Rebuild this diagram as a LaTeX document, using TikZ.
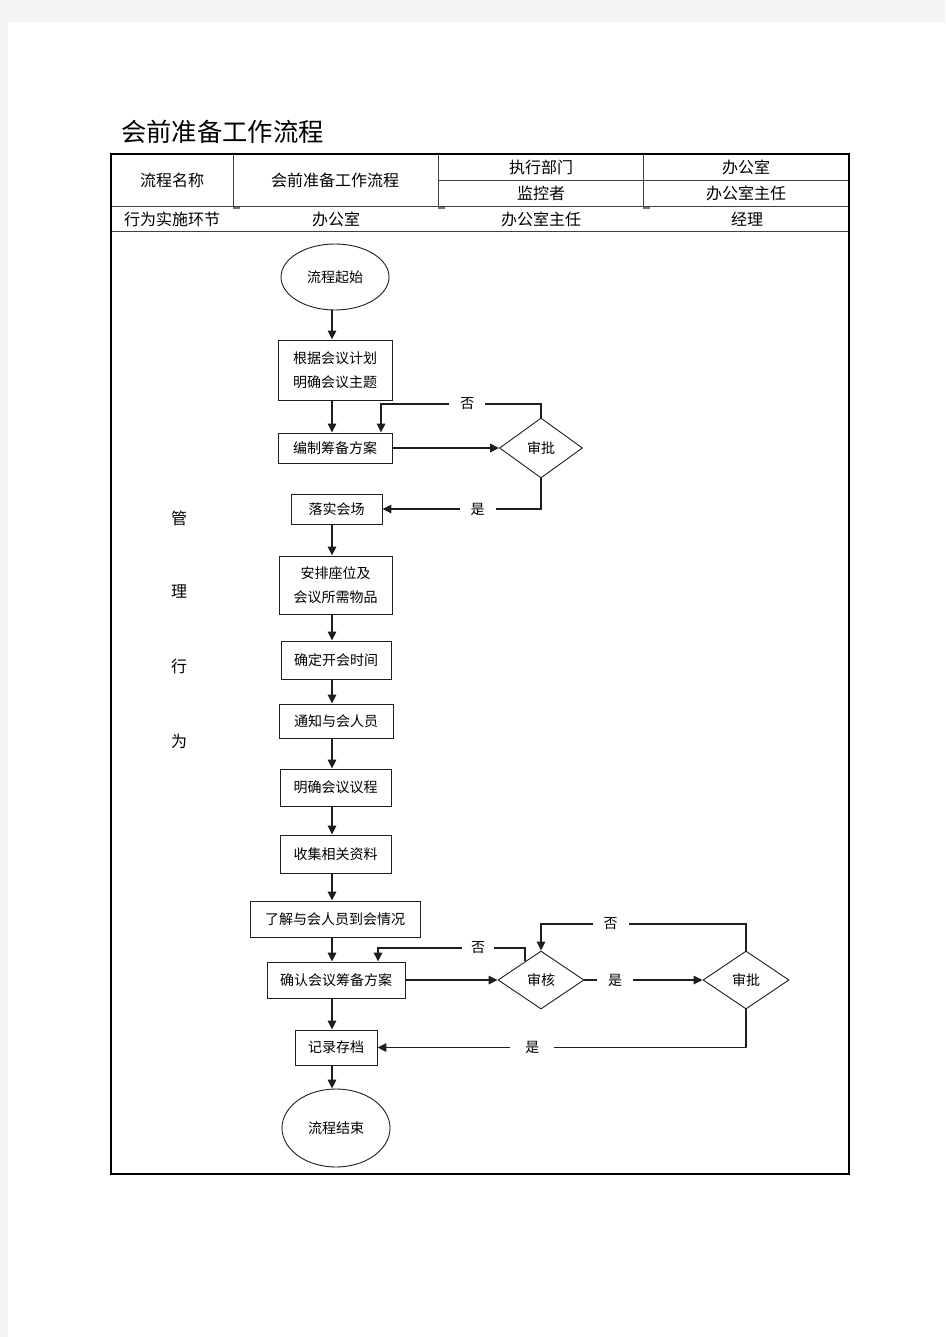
\documentclass[tikz,border=0pt]{standalone}
\usepackage{fontspec}
\setmainfont{Noto Sans CJK SC}
\usetikzlibrary{shapes.geometric,arrows.meta}
\definecolor{pagebg}{RGB}{243,243,243}
\definecolor{ink}{RGB}{30,30,30}
\begin{document}
\begin{tikzpicture}[x=1pt,y=-1pt,
  box/.style={draw=ink, line width=0.9pt, inner sep=0pt, align=center, font=\fontsize{14}{24}\selectfont},
  term/.style={ellipse, draw=ink, line width=0.9pt, minimum width=108pt, inner sep=0pt, font=\fontsize{14}{17}\selectfont},
  dec/.style={diamond, draw=ink, line width=0.9pt, inner sep=0pt, font=\fontsize{14}{17}\selectfont},
  conn/.style={draw=ink, line width=1.6pt, -{Triangle[length=9pt,width=8.5pt]}},
  lbl/.style={fill=white, inner xsep=11pt, inner ysep=1pt, font=\fontsize{14}{17}\selectfont},
  hdr/.style={font=\fontsize{16}{19}\selectfont, inner sep=0pt},
  tline/.style={draw=black!75, line width=1pt},
  ]
\useasboundingbox (0,0) rectangle (945,1337);
\fill[pagebg] (0,0) rectangle (945,1337);
\fill[white] (8,22) rectangle (945,1337);

% title
\node[anchor=west, inner sep=0pt, font=\fontsize{25.3}{28}\selectfont] (title) at (121,132) {会前准备工作流程};

% table lines
\draw[tline] (438,181) -- (849,181);
\draw[tline] (111,207) -- (849,207);
\draw[tline] (111,232) -- (849,232);
\draw[tline] (233,154) -- (233,207);
\draw[tline] (438,154) -- (438,207);
\draw[tline] (643,154) -- (643,207);
\draw[black!55, line width=1.5pt] (233,208) -- (240,208) (438,208) -- (445,208) (643,208) -- (650,208);
\draw[black, line width=2.4pt] (111,154) rectangle (849,1174);

% header texts
\node[hdr] (h1) at (172,180) {流程名称};
\node[hdr] (h2) at (335,180) {会前准备工作流程};
\node[hdr] (h3) at (541,167) {执行部门};
\node[hdr] (h4) at (746,167) {办公室};
\node[hdr] (h5) at (541,193) {监控者};
\node[hdr] (h6) at (746,193) {办公室主任};
\node[hdr] (h7) at (172,219) {行为实施环节};
\node[hdr] (h8) at (336,219) {办公室};
\node[hdr] (h9) at (541,219) {办公室主任};
\node[hdr] (h10) at (747,219) {经理};

% left column
\node[hdr] (v1) at (179,518) {管};
\node[hdr] (v2) at (179,592) {理};
\node[hdr] (v3) at (179,666) {行};
\node[hdr] (v4) at (179,741) {为};

% flow nodes
\node[term, minimum height=66pt] (start) at (335,277) {流程起始};
\node[box, minimum width=114pt, minimum height=60pt] (b1) at (335,370) {根据会议计划\\明确会议主题};
\node[box, minimum width=114pt, minimum height=30pt] (b2) at (335,448) {编制筹备方案};
\node[dec, minimum width=83pt, minimum height=60pt] (d1) at (541,448) {审批};
\node[box, minimum width=91pt, minimum height=30pt] (b3) at (336.5,509) {落实会场};
\node[box, minimum width=113pt, minimum height=58pt] (b4) at (335.5,585) {安排座位及\\会议所需物品};
\node[box, minimum width=110pt, minimum height=38pt] (b5) at (336,660) {确定开会时间};
\node[box, minimum width=114pt, minimum height=34pt] (b6) at (336,721) {通知与会人员};
\node[box, minimum width=111pt, minimum height=37pt] (b7) at (335.5,787.5) {明确会议议程};
\node[box, minimum width=111pt, minimum height=38pt] (b8) at (335.5,854) {收集相关资料};
\node[box, minimum width=170pt, minimum height=36pt] (b9) at (335,919) {了解与会人员到会情况};
\node[box, minimum width=138pt, minimum height=36pt] (b10) at (336,980) {确认会议筹备方案};
\node[dec, minimum width=86pt, minimum height=58pt] (d2) at (541,980) {审核};
\node[dec, minimum width=86pt, minimum height=58pt] (d3) at (746,980) {审批};
\node[box, minimum width=82pt, minimum height=35pt] (b11) at (336,1047.5) {记录存档};
\node[term, minimum height=78pt] (end) at (336,1128) {流程结束};

% helper coordinates
\coordinate (cx) at (332,0);
\coordinate (n1) at (381,404);
\coordinate (n2) at (541,924);
\coordinate (n3) at (378,948);

% connectors
\draw[conn] (start.south -| cx) -- (b1.north -| cx);
\draw[conn] (b1.south -| cx) -- (b2.north -| cx);
\draw[conn] (b2.east) -- (d1.west);
\draw[conn] (d1.north) |- node[lbl, pos=0.73] {否} (n1) -- (b2.north -| n1);
\draw[conn] (d1.south) |- node[lbl, pos=0.70] {是} (b3.east);
\draw[conn] (b3.south -| cx) -- (b4.north -| cx);
\draw[conn] (b4.south -| cx) -- (b5.north -| cx);
\draw[conn] (b5.south -| cx) -- (b6.north -| cx);
\draw[conn] (b6.south -| cx) -- (b7.north -| cx);
\draw[conn] (b7.south -| cx) -- (b8.north -| cx);
\draw[conn] (b8.south -| cx) -- (b9.north -| cx);
\draw[conn] (b9.south -| cx) -- (b10.north -| cx);
\draw[conn] (b10.south -| cx) -- (b11.north -| cx);
\draw[conn] (b11.south -| cx) -- (end.north -| cx);
\draw[conn] (b10.east) -- (d2.west);
\draw[conn] (d2.east) -- node[lbl, pos=0.26] {是} (d3.west);
\draw[conn] (d3.north) |- node[lbl, pos=0.83] {否} (n2) -- (d2.north);
\draw[conn] (d2.130) |- node[lbl, pos=0.66, inner xsep=9pt] {否} (n3) -- (b10.north -| n3);
\draw[conn] (d3.south) |- node[lbl, pos=0.79, inner xsep=15pt] {是} (b11.east);
\end{tikzpicture}
\end{document}
